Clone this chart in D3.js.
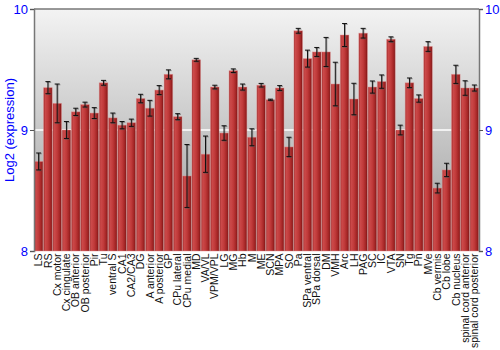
<!DOCTYPE html>
<html>
<head>
<meta charset="utf-8">
<script src="https://cdn.jsdelivr.net/npm/d3@7"></script>
<style>
  body { margin: 0; background: #fff; }
  svg text { font-family: "Liberation Sans", Arial, sans-serif; }
</style>
</head>
<body>
<div id="chart"></div>
<script>
const regions = ['LS', 'RS', 'Cx motor', 'Cx cingulate', 'OB anterior', 'OB posterior', 'Pir', 'Tu',
  'ventral S', 'CA1', 'CA2/CA3', 'DG', 'A anterior', 'A posterior', 'GP', 'CPu lateral', 'CPu medial',
  'MD', 'VA/VL', 'VPM/VPL', 'LG', 'MG', 'Hb', 'M', 'ME', 'SCN', 'MPA', 'SO', 'Pa', 'SPa ventral',
  'SPa dorsal', 'DM', 'VMH', 'Arc', 'LH', 'PAG', 'SC', 'IC', 'VTA', 'SN', 'Tg', 'Pn', 'MVe',
  'Cb vermis', 'Cb lobe', 'Cb nucleus', 'spinal cord anterior', 'spinal cord posterior'];

const expression = [8.74, 9.35, 9.22, 9.00, 9.15, 9.21, 9.14, 9.39,
  9.10, 9.04, 9.06, 9.26, 9.18, 9.33, 9.46, 9.11, 8.62,
  9.58, 8.80, 9.355, 8.975, 9.49, 9.355, 8.94, 9.37, 9.25, 9.347, 8.86, 9.82, 9.59,
  9.645, 9.645, 9.38, 9.785, 9.256, 9.80, 9.355, 9.40, 9.75, 9.00, 9.39, 9.26, 9.69,
  8.52, 8.67, 9.46, 9.347, 9.347];

const stdErr = [0.07, 0.05, 0.16, 0.07, 0.03, 0.02, 0.045, 0.02,
  0.04, 0.03, 0.03, 0.035, 0.065, 0.037, 0.037, 0.025, 0.26,
  0.012, 0.15, 0.015, 0.06, 0.015, 0.025, 0.07, 0.015, 0.005, 0.02, 0.08, 0.02, 0.07,
  0.037, 0.12, 0.18, 0.095, 0.13, 0.04, 0.05, 0.055, 0.02, 0.04, 0.04, 0.03, 0.04,
  0.04, 0.055, 0.075, 0.06, 0.025];

const yTicks = [8, 9, 10];

const width = 500, height = 350;
const margin = {top: 9, right: 21, bottom: 99, left: 34};
const w = width - margin.left - margin.right,
      h = height - margin.top - margin.bottom;

const svg = d3.select('#chart').append('svg')
  .attr('width', width)
  .attr('height', height);

const defs = svg.append('defs');

let bg = defs.append('linearGradient')
  .attr('id', 'bg')
  .attr('x1', 0).attr('y1', 0).attr('x2', 0).attr('y2', 1);
bg.append('stop').attr('offset', '0%').attr('stop-color', '#f3f3f3');
bg.append('stop').attr('offset', '100%').attr('stop-color', '#9c9c9c');

let barFill = defs.append('linearGradient')
  .attr('id', 'barFill')
  .attr('x1', 0).attr('y1', 0).attr('x2', 1).attr('y2', 0);
[['0%', '#9c2424'], ['18%', '#cc4a4a'], ['50%', '#c03a3a'], ['82%', '#a22424'], ['100%', '#741212']]
  .forEach(s => barFill.append('stop').attr('offset', s[0]).attr('stop-color', s[1]));

const g = svg.append('g').attr('transform', `translate(${margin.left},${margin.top})`);

const x = d3.scaleBand().domain(regions).range([0, w]).paddingInner(0.08).paddingOuter(0.04);
const y = d3.scaleLinear().domain([8, 10]).range([h, 0]);

g.append('rect')
  .attr('width', w).attr('height', h)
  .attr('fill', 'url(#bg)');

// grid line at 9
g.append('line')
  .attr('x1', 0).attr('x2', w)
  .attr('y1', y(9)).attr('y2', y(9))
  .attr('stroke', '#fff').attr('stroke-width', 1.5);

const data = regions.map((r, i) => ({region: r, value: expression[i], err: stdErr[i]}));

g.selectAll('.bar')
  .data(data)
  .enter()
  .append('rect')
  .attr('class', 'bar')
  .attr('x', d => x(d.region))
  .attr('y', d => y(d.value))
  .attr('width', x.bandwidth())
  .attr('height', d => h - y(d.value))
  .attr('fill', 'url(#barFill)')
  .attr('stroke', 'rgba(230,140,140,0.55)')
  .attr('stroke-width', 0.8);

// error bars, with a faint shadow
const errG = g.append('g');
[{dx: 0.8, dy: 0.8, color: 'rgba(90,90,90,0.55)'}, {dx: 0, dy: 0, color: '#111'}].forEach(s => {
  let eg = errG.append('g').attr('transform', `translate(${s.dx},${s.dy})`);
  data.forEach(d => {
    let cx = x(d.region) + x.bandwidth() / 2;
    let y1 = y(d.value + d.err), y2 = y(d.value - d.err);
    eg.append('line').attr('x1', cx).attr('x2', cx).attr('y1', y1).attr('y2', y2)
      .attr('stroke', s.color).attr('stroke-width', 1);
    [y1, y2].forEach(yy => {
      eg.append('line').attr('x1', cx - 2.5).attr('x2', cx + 2.5).attr('y1', yy).attr('y2', yy)
        .attr('stroke', s.color).attr('stroke-width', 1);
    });
  });
});

// frame
g.append('line').attr('x1', 0).attr('x2', w).attr('y1', 0).attr('y2', 0)
  .attr('stroke', '#777').attr('stroke-width', 1.5);

const leftAxis = g.append('g')
  .call(d3.axisLeft(y).tickValues(yTicks).tickFormat(d3.format('d')).tickSize(4).tickPadding(2));
const rightAxis = g.append('g')
  .attr('transform', `translate(${w},0)`)
  .call(d3.axisRight(y).tickValues(yTicks).tickFormat(d3.format('d')).tickSize(4).tickPadding(2));

[leftAxis, rightAxis].forEach(a => {
  a.select('.domain').attr('stroke', '#777').attr('stroke-width', 1.5);
  a.selectAll('.tick line').attr('stroke', '#555');
  a.selectAll('.tick text').attr('fill', '#0000ff').style('font-size', '13px');
});

// category labels
const xAxis = g.append('g')
  .attr('transform', `translate(0,${h})`)
  .call(d3.axisBottom(x).tickSize(0).tickPadding(0));
xAxis.select('.domain').remove();
xAxis.selectAll('.tick text')
  .attr('transform', 'rotate(-90)')
  .attr('text-anchor', 'end')
  .attr('x', -2.5)
  .attr('y', 0)
  .attr('dy', '0.35em')
  .attr('fill', '#111')
  .style('font-size', '10.5px');

svg.append('text')
  .attr('transform', `translate(14,${margin.top + h / 2}) rotate(-90)`)
  .attr('text-anchor', 'middle')
  .attr('fill', '#0000ff')
  .style('font-size', '13px')
  .text('Log2 (expression)');
</script>
</body>
</html>
